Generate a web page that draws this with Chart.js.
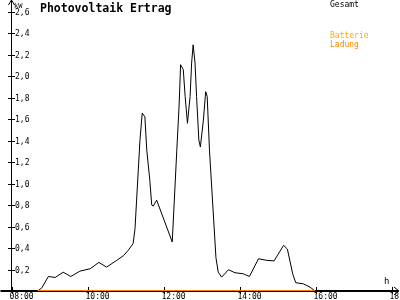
<!DOCTYPE html>
<html>
<head>
<meta charset="utf-8">
<script src="https://cdn.jsdelivr.net/npm/chart.js@4/dist/chart.umd.min.js"></script>
<style>
  html, body { margin: 0; padding: 0; background: #fff; }
  canvas { display: block; }
</style>
</head>
<body>
<canvas id="pv" width="400" height="300"></canvas>
<script>
// Photovoltaik Ertrag - one day, times in hours
const gesamtTimes = [
  8.69, 8.80, 8.97, 9.15, 9.36, 9.56, 9.80, 10.07, 10.30, 10.50,
  10.77, 10.95, 11.07, 11.20, 11.25, 11.38, 11.44, 11.51, 11.56, 11.64,
  11.69, 11.73, 11.82, 12.23, 12.35, 12.41, 12.45, 12.52, 12.57, 12.63,
  12.70, 12.74, 12.78, 12.83, 12.87, 12.93, 12.97, 13.05, 13.11, 13.15,
  13.21, 13.38, 13.44, 13.53, 13.71, 13.88, 14.10, 14.26, 14.50, 14.72,
  14.91, 15.16, 15.26, 15.40, 15.48, 15.68, 15.86, 15.99
];
const gesamtKw = [
  0, 0.03, 0.135, 0.126, 0.175, 0.135, 0.185, 0.207, 0.266, 0.222,
  0.285, 0.33, 0.378, 0.44, 0.58, 1.40, 1.655, 1.62, 1.31, 1.03,
  0.80, 0.79, 0.845, 0.456, 1.31, 1.72, 2.105, 2.06, 1.81, 1.56,
  1.81, 2.12, 2.29, 2.12, 1.81, 1.405, 1.34, 1.59, 1.855, 1.81,
  1.31, 0.31, 0.175, 0.129, 0.198, 0.17, 0.16, 0.135, 0.30, 0.285,
  0.28, 0.425, 0.39, 0.16, 0.077, 0.067, 0.035, 0
];
const ladungTimes = [8.69, 15.99];
const ladungKw = [0, 0];

const xTickValues = [8, 10, 12, 14, 16, 18];
const xTickLabels = ["08:00", "10:00", "12:00", "14:00", "16:00", "18:00"];
const yTickValues = [0.2, 0.4, 0.6, 0.8, 1.0, 1.2, 1.4, 1.6, 1.8, 2.0, 2.2, 2.4, 2.6];
const yTickLabels = ["0,2", "0,4", "0,6", "0,8", "1,0", "1,2", "1,4", "1,6", "1,8", "2,0", "2,2", "2,4", "2,6"];

const MONO = '"DejaVu Sans Mono", "Liberation Mono", monospace';

const toPoints = (xs, ys) => xs.map((x, i) => ({ x, y: ys[i] }));

// axes, ticks, unit labels, title and legend text
const decorPlugin = {
  id: "decor",
  beforeDatasetsDraw(chart) {
    const { ctx, chartArea } = chart;
    const xs = chart.scales.x;
    const ys = chart.scales.y;
    const x0 = xs.getPixelForValue(8);
    const y0 = ys.getPixelForValue(0);
    ctx.save();
    ctx.strokeStyle = "#000";
    ctx.fillStyle = "#000";

    // y axis
    ctx.lineWidth = 1;
    ctx.beginPath();
    ctx.moveTo(x0, y0);
    ctx.lineTo(x0, 0);
    ctx.stroke();
    ctx.beginPath();
    ctx.moveTo(x0 - 3, 5);
    ctx.lineTo(x0, 0);
    ctx.lineTo(x0 + 3, 5);
    ctx.stroke();

    // x axis
    ctx.lineWidth = 2;
    ctx.beginPath();
    ctx.moveTo(x0 - 11, y0);
    ctx.lineTo(398, y0);
    ctx.stroke();
    ctx.lineWidth = 1;
    ctx.beginPath();
    ctx.moveTo(394, y0 - 4);
    ctx.lineTo(399, y0);
    ctx.lineTo(394, y0 + 4);
    ctx.stroke();

    // y ticks + labels
    ctx.font = "8px " + MONO;
    ctx.textBaseline = "middle";
    ctx.textAlign = "left";
    yTickValues.forEach((v, i) => {
      const py = Math.round(ys.getPixelForValue(v)) + 0.5;
      ctx.beginPath();
      ctx.moveTo(x0 - 3.5, py);
      ctx.lineTo(x0 + 3.5, py);
      ctx.stroke();
      ctx.fillText(yTickLabels[i], 15, py);
    });

    // x ticks + labels
    ctx.textBaseline = "alphabetic";
    xTickValues.forEach((v, i) => {
      const px = Math.round(xs.getPixelForValue(v)) + 0.5;
      ctx.beginPath();
      ctx.moveTo(px, y0 - 4);
      ctx.lineTo(px, y0 + 3);
      ctx.stroke();
      ctx.fillText(xTickLabels[i], px - 3, 299);
    });

    // units
    ctx.font = "7px " + MONO;
    ctx.fillText("kW", 14, 8);
    ctx.font = "9px " + MONO;
    ctx.fillText("h", 384, 284);

    // title
    ctx.font = "bold 11.5px " + MONO;
    ctx.fillText("Photovoltaik Ertrag", 40, 12);

    // legend
    ctx.font = "8px " + MONO;
    ctx.fillStyle = "#000";
    ctx.fillText("Gesamt", 330, 7);
    ctx.fillStyle = "#ffaa00";
    ctx.fillText("Batterie", 330, 38);
    ctx.fillStyle = "#ff8800";
    ctx.fillText("Ladung", 330, 46.5);
    ctx.restore();
  },
};

new Chart(document.getElementById("pv"), {
  type: "line",
  data: {
    datasets: [
      {
        label: "Batterie Ladung",
        data: toPoints(ladungTimes, ladungKw),
        borderColor: "#ff8000",
        borderWidth: 2,
        pointRadius: 0,
        tension: 0,
        order: 0,
      },
      {
        label: "Gesamt",
        data: toPoints(gesamtTimes, gesamtKw),
        borderColor: "#000",
        borderWidth: 1,
        pointRadius: 0,
        tension: 0,
        order: 1,
      },
    ],
  },
  options: {
    responsive: false,
    animation: false,
    events: [],
    layout: { padding: { left: 11.5, right: 8.5, top: 11.5, bottom: 9 } },
    plugins: {
      legend: { display: false },
      tooltip: { enabled: false },
      title: { display: false },
    },
    scales: {
      x: { type: "linear", min: 8, max: 18, display: false },
      y: { type: "linear", min: 0, max: 2.6, display: false },
    },
  },
  plugins: [decorPlugin],
});
</script>
</body>
</html>
